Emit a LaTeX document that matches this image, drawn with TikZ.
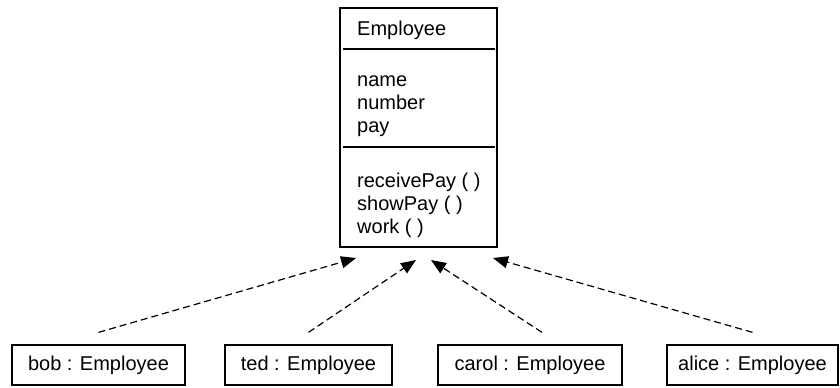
\documentclass[tikz,border=0pt]{standalone}
\usepackage{fontspec}
\setmainfont{Liberation Sans}
\usetikzlibrary{arrows.meta}

\begin{document}
\begin{tikzpicture}[x=1bp,y=-1bp,
  every node/.style={font=\fontsize{20bp}{23bp}\selectfont},
  obj/.style={draw, line width=1.3bp, minimum height=40bp, inner sep=0pt},
  member/.style={anchor=base west, inner sep=0pt},
  dep/.style={dash pattern=on 7bp off 4bp, line width=1.2bp, -{Triangle[length=15bp,width=12bp]}}]
\useasboundingbox (0,0) rectangle (840,387);
%class box
\node[draw, line width=1.3bp, minimum width=157bp, minimum height=239bp] (emp) at (418.5,127.5) {};
\draw[line width=1.3bp] (343,49) -- (495,49);
\draw[line width=1.3bp] (343,147) -- (495,147);
\node[member] (title) at (357,35) {Employee};
%attributes
\node[member] (name) at (357,86) {name};
\node[member] (number) at (357,109) {number};
\node[member] (pay) at (357,132) {pay};
%operations
\node[member] (receive) at (357,187) {receivePay ( )};
\node[member] (show) at (357,210) {showPay ( )};
\node[member] (work) at (357,233) {work ( )};
%instances
\node[obj, minimum width=173bp] (bob) at (98.5,365) {bob : Employee};
\node[obj, minimum width=167bp] (ted) at (308.5,365) {ted : Employee};
\node[obj, minimum width=184bp] (carol) at (530,365) {carol : Employee};
\node[obj, minimum width=171bp] (alice) at (752.5,365) {alice : Employee};
%arrow tips
\coordinate (tipbob) at (356,258);
\coordinate (tipted) at (416,260);
\coordinate (tipcarol) at (431,260);
\coordinate (tipalice) at (493,258);
%dependencies
\draw[dep] ([yshift=12bp]bob.north) -- (tipbob);
\draw[dep] ([yshift=12bp]ted.north) -- (tipted);
\draw[dep] ([xshift=12bp,yshift=12bp]carol.north) -- (tipcarol);
\draw[dep] ([yshift=12bp]alice.north) -- (tipalice);
\end{tikzpicture}
\end{document}
